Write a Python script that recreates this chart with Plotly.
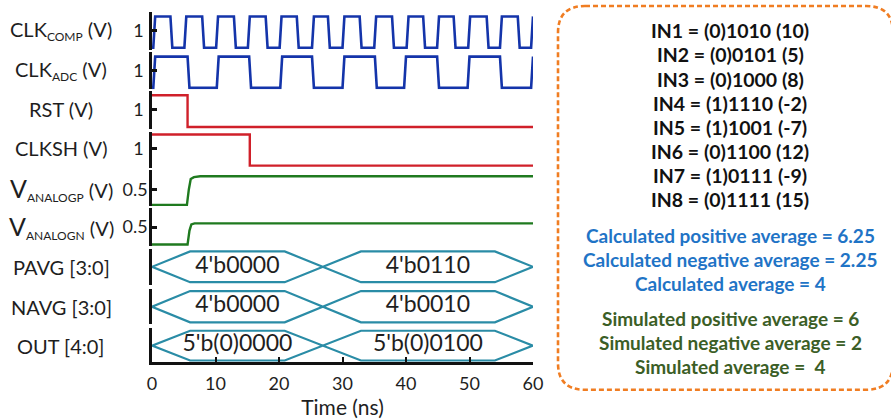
import plotly.graph_objects as go

# ---------------- data ----------------
T_MAX = 60
x_ticks = [0, 10, 20, 30, 40, 50, 60]

clkcomp_rise = [0.2, 5.1, 10.1, 15.1, 20.1, 25.2, 30.0, 35.0, 40.1, 44.9, 49.8, 54.8, 59.7]
clkcomp_fall = [2.9, 7.9, 12.9, 17.9, 22.8, 27.7, 32.7, 37.8, 42.7, 47.5, 52.7, 57.6]
clkadc_rise = [0.2, 10.2, 20.2, 30.0, 39.7, 49.7, 59.7]
clkadc_fall = [5.6, 15.3, 25.2, 35.1, 44.9, 54.8]
digital_high = 1.8
rst_fall = [5.6]
clksh_fall = [15.4]
vanalogp_t = [0, 5.5, 5.8, 6.1, 6.6, 7.6, 60]
vanalogp_v = [0, 0, 0.5, 0.84, 0.9, 0.93, 0.93]
vanalogn_t = [0, 5.6, 5.9, 6.2, 6.7, 60]
vanalogn_v = [0, 0, 0.4, 0.58, 0.61, 0.61]

bus_change = 26.9
bus_ramp = 6.0
pavg_vals = ["4'b0000", "4'b0110"]
navg_vals = ["4'b0000", "4'b0010"]
out_vals = ["5'b(0)0000", "5'b(0)0100"]

SUB = '<sub><span style="font-size:12px">{}</span></sub>'
BIGV = '<span style="font-size:25px">V</span>'
row_titles = ["CLK" + SUB.format("COMP") + " (V)", "CLK" + SUB.format("ADC") + " (V)",
              "RST (V)", "CLKSH (V)",
              BIGV + SUB.format("ANALOGP") + " (V)", BIGV + SUB.format("ANALOGN") + " (V)",
              "PAVG [3:0]", "NAVG [3:0]", "OUT [4:0]"]
row_ticks = [1, 1, 1, 1, 0.5, 0.5, None, None, None]
row_ticktext = ["1", "1", "1", "1", "0.5", "0.5", None, None, None]

input_lines = ["IN1 = (0)1010 (10)", "IN2 = (0)0101 (5)", "IN3 = (0)1000 (8)",
               "IN4 = (1)1110 (-2)", "IN5 = (1)1001 (-7)", "IN6 = (0)1100 (12)",
               "IN7 = (1)0111 (-9)", "IN8 = (0)1111 (15)"]
calc_lines = ["Calculated positive average = 6.25", "Calculated negative average = 2.25",
              "Calculated average = 4"]
sim_lines = ["Simulated positive average = 6", "Simulated negative average = 2",
             "Simulated average =  4"]

# ---------------- styling / geometry ----------------
W, H = 891, 419
ML, MR, MT, MB = 152, 358, 10, 54
PW, PH = W - ML - MR, H - MT - MB
FONT = "Lato"
TXT = "#1E1E1E"
BLUE = "#1434AA"
RED = "#D0202A"
GREEN = "#1F7A1F"
TEAL = "#2A8CA6"
ORANGE = "#F07D22"
CALC_C = "#1F74C6"
SIM_C = "#3B5E26"

# pixel layout of rows: top, bottom, (value a at pixel a), (value b at pixel b)
rows = [
    (12, 50, 0, 48, 1.8, 16.5),
    (52, 90, 0, 88.5, 1.8, 57),
    (92, 130, 0, 128, 1.8, 96),
    (133, 169, 0, 167, 1.8, 135.5),
    (171, 208, 0, 206.5, 0.5, 191),
    (210, 248, 0, 246.5, 0.5, 229),
    (251, 287, -1, 284.5, 1, 253.5),
    (291, 327, -1, 325, 1, 293.5),
    (331, 365, -1, 363.5, 1, 333.5),
]


def py2paper(py):
    return (H - MB - py) / PH


def px2paper(px):
    return (px - ML) / PW


def digital(rises, falls, start_level, high, ramp=0.3):
    ev = [(t, 1) for t in rises] + [(t, 0) for t in falls]
    ev.sort()
    lvl = start_level
    xs, ys = [0], [lvl * high]
    for t, new in ev:
        xs += [t, min(t + ramp, T_MAX)]
        ys += [lvl * high, new * high]
        lvl = new
    xs.append(T_MAX)
    ys.append(lvl * high)
    return xs, ys


def bus_shape(tc, r):
    xs = [0, r, tc - r, tc + r, T_MAX - r, T_MAX, T_MAX - r, tc + r, tc - r, r, 0]
    ys = [0, 1, 1, -1, -1, 0, 1, 1, -1, -1, 0]
    return xs, ys


fig = go.Figure()


def add_line(xs, ys, row, color, width):
    fig.add_trace(go.Scatter(x=xs, y=ys, mode="lines", xaxis="x",
                             yaxis="y" if row == 1 else f"y{row}",
                             line=dict(color=color, width=width),
                             cliponaxis=False, showlegend=False, hoverinfo="skip"))


xs, ys = digital(clkcomp_rise, clkcomp_fall, 0, digital_high)
add_line(xs, ys, 1, BLUE, 2.6)
xs, ys = digital(clkadc_rise, clkadc_fall, 0, digital_high)
add_line(xs, ys, 2, BLUE, 2.6)
xs, ys = digital([], rst_fall, 1, digital_high, ramp=0.0)
add_line(xs, ys, 3, RED, 2.4)
xs, ys = digital([], clksh_fall, 1, digital_high, ramp=0.0)
add_line(xs, ys, 4, RED, 2.4)
add_line(vanalogp_t, vanalogp_v, 5, GREEN, 2.4)
add_line(vanalogn_t, vanalogn_v, 6, GREEN, 2.4)

for row, vals in zip([7, 8, 9], [pavg_vals, navg_vals, out_vals]):
    bx, by = bus_shape(bus_change, bus_ramp)
    add_line(bx, by, row, TEAL, 2.2)
    fig.add_trace(go.Scatter(x=[bus_change / 2, (bus_change + T_MAX) / 2], y=[0, 0],
                             mode="text", text=vals, xaxis="x", yaxis=f"y{row}",
                             textfont=dict(family=FONT, size=23, color=TXT),
                             cliponaxis=False, showlegend=False, hoverinfo="skip"))

layout = dict(
    width=W, height=H, margin=dict(l=ML, r=MR, t=MT, b=MB),
    paper_bgcolor="white", plot_bgcolor="white", showlegend=False,
    font=dict(family=FONT, color=TXT),
    xaxis=dict(anchor="y9", domain=[0, 1], range=[0, T_MAX], tickvals=x_ticks,
               ticks="inside", ticklen=5, tickwidth=2, tickcolor="#111111",
               showline=True, linecolor="#111111", linewidth=2.5,
               showgrid=False, zeroline=False, ticklabelstandoff=4,
               tickfont=dict(family=FONT, size=18, color=TXT),
               title=dict(text="Time (ns)", font=dict(family=FONT, size=21, color=TXT),
                          standoff=0)),
)

annotations = []
for i, (top, bot, va, pa, vb, pb) in enumerate(rows):
    scale = (pa - pb) / (vb - va)
    r_lo = va - (bot - pa) / scale
    r_hi = vb + (pb - top) / scale
    span = r_hi - r_lo
    ends = [r_lo + 0.002 * span, r_hi - 0.002 * span]
    key = "yaxis" if i == 0 else f"yaxis{i + 1}"
    ax = dict(
        domain=[py2paper(bot), py2paper(top)], range=[r_lo, r_hi], anchor="x",
        ticks="inside", ticklen=5, tickwidth=2.5, tickcolor="#111111",
        showline=True, linecolor="#111111", linewidth=2.5,
        showgrid=False, zeroline=False, fixedrange=True,
        minor=dict(tickvals=ends, ticks="inside", ticklen=5, tickwidth=2.5,
                   tickcolor="#111111", showgrid=False),
        tickfont=dict(family=FONT, size=18, color=TXT),
    )
    if row_ticks[i] is not None:
        ax.update(tickvals=[row_ticks[i]], ticktext=[row_ticktext[i]],
                  ticklabelstandoff=2 if row_ticktext[i] == "1" else -2)
        yc = pa - (row_ticks[i] - va) * scale
    else:
        ax.update(tickvals=[], showticklabels=False)
        yc = (pa + pb) / 2
    layout[key] = ax
    annotations.append(dict(text=row_titles[i], x=px2paper(61), y=py2paper(yc),
                            xref="paper", yref="paper", xanchor="center", yanchor="middle",
                            showarrow=False, font=dict(family=FONT, size=20, color=TXT)))

# right info box text
box_cx = px2paper(730)
for k, s in enumerate(input_lines):
    annotations.append(dict(text=f"<b>{s}</b>", x=box_cx, y=py2paper(31 + 24.3 * k),
                            xref="paper", yref="paper", xanchor="center", yanchor="middle",
                            showarrow=False, font=dict(family=FONT, size=19.5, color="#111111")))
for k, s in enumerate(calc_lines):
    annotations.append(dict(text=f"<b>{s}</b>", x=box_cx, y=py2paper(237 + 24.5 * k),
                            xref="paper", yref="paper", xanchor="center", yanchor="middle",
                            showarrow=False, font=dict(family=FONT, size=19, color=CALC_C)))
for k, s in enumerate(sim_lines):
    annotations.append(dict(text=f"<b>{s}</b>", x=box_cx, y=py2paper(321 + 24.5 * k),
                            xref="paper", yref="paper", xanchor="center", yanchor="middle",
                            showarrow=False, font=dict(family=FONT, size=19, color=SIM_C)))
layout["annotations"] = annotations

# rounded dashed box
x0, x1, y0, y1, r = 558, 893, 6, 393, 27


def P(px, py):
    return f"{px2paper(px):.5f},{py2paper(py):.5f}"


path = (f"M {P(x0 + r, y0)} L {P(x1 - r, y0)} Q {P(x1, y0)} {P(x1, y0 + r)} "
        f"L {P(x1, y1 - r)} Q {P(x1, y1)} {P(x1 - r, y1)} L {P(x0 + r, y1)} "
        f"Q {P(x0, y1)} {P(x0, y1 - r)} L {P(x0, y0 + r)} Q {P(x0, y0)} {P(x0 + r, y0)} Z")
layout["shapes"] = [dict(type="path", path=path, xref="paper", yref="paper",
                         line=dict(color=ORANGE, width=2.6, dash="5px,3px"))]

fig.update_layout(layout)
fig.write_html("out.html", config={"displayModeBar": False},
               post_script="document.body.style.margin='0px';")
